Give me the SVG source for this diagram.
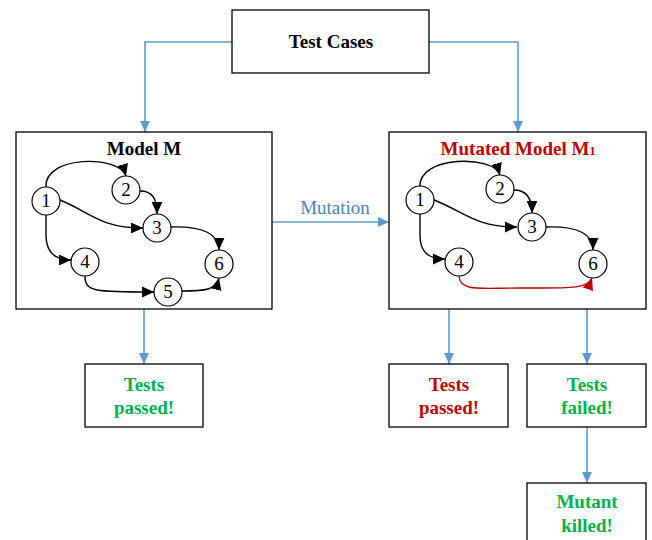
<svg xmlns="http://www.w3.org/2000/svg" width="652" height="540" viewBox="0 0 652 540">
<defs>
<marker id="ab" markerUnits="userSpaceOnUse" markerWidth="12" markerHeight="12" refX="10" refY="5" orient="auto" viewBox="0 0 10 10"><path d="M0,0.5 L10,5 L0,9.5 Z" fill="#000"/></marker>
<marker id="ar" markerUnits="userSpaceOnUse" markerWidth="12" markerHeight="12" refX="10" refY="5" orient="auto" viewBox="0 0 10 10"><path d="M0,0.5 L10,5 L0,9.5 Z" fill="#c00000"/></marker>
<marker id="bl" markerUnits="userSpaceOnUse" markerWidth="11" markerHeight="11" refX="10" refY="5" orient="auto" viewBox="0 0 10 10"><path d="M0,0.5 L10,5 L0,9.5 Z" fill="#5b9bd5"/></marker>
</defs>
<style>
.box{fill:#fff;stroke:#000;stroke-width:1.3}
.t{font-family:"Liberation Serif","Times New Roman",serif;font-weight:bold;font-size:19px;text-anchor:middle}
.n{font-family:"Liberation Serif","Times New Roman",serif;font-size:19px;text-anchor:middle}
.c{fill:#fff;stroke:#000;stroke-width:1.2}
.e{fill:none;stroke:#000;stroke-width:1.4;marker-end:url(#ab)}
.er{fill:none;stroke:#c00000;stroke-width:1.4;marker-end:url(#ar)}
.b{fill:none;stroke:#5b9bd5;stroke-width:1.6;marker-end:url(#bl)}
.g{fill:#00b050}
.r{fill:#c00000}
</style>
<g id="connectors">
<path class="b" d="M232,42 H145 V132"/>
<path class="b" d="M429,42 H518 V132"/>
<path class="b" d="M272,222 H389"/>
<path class="b" d="M144,309 V364"/>
<path class="b" d="M449,309 V364"/>
<path class="b" d="M587,309 V364"/>
<path class="b" d="M587,427 V483"/>
<text x="335" y="214" style="font-family:'Liberation Serif','Times New Roman',serif;font-size:19px;fill:#4f81bd;text-anchor:middle">Mutation</text>
</g>
<g id="test-cases">
<rect class="box" x="232" y="10" width="197" height="63"/>
<text class="t" x="331" y="48">Test Cases</text>
</g>
<g id="model-m">
<rect class="box" x="16" y="132" width="256" height="177"/>
<text class="t" x="144" y="155">Model M</text>
<path class="e" d="M46,187 C44,155 120,155 126,176"/>
<path class="e" d="M140,191 C152,191 157,198 157,214"/>
<path class="e" d="M60,200 C90,212 100,228 143,228"/>
<path class="e" d="M171,227 C205,226 219,235 219,250"/>
<path class="e" d="M46,215 L46,235 C46,252 55,260 71,260"/>
<path class="e" d="M85,276 C85,292 95,292 154,292"/>
<path class="e" d="M182,291 C205,291 216,290 219,278"/>
<g id="m-n1"><circle class="c" cx="46" cy="201" r="14"/><text class="n" x="46" y="207">1</text></g>
<g id="m-n2"><circle class="c" cx="126" cy="190" r="14"/><text class="n" x="126" y="196">2</text></g>
<g id="m-n3"><circle class="c" cx="157" cy="228" r="14"/><text class="n" x="157" y="234">3</text></g>
<g id="m-n4"><circle class="c" cx="85" cy="262" r="14"/><text class="n" x="85" y="268">4</text></g>
<g id="m-n5"><circle class="c" cx="168" cy="292" r="14"/><text class="n" x="168" y="298">5</text></g>
<g id="m-n6"><circle class="c" cx="219" cy="264" r="14"/><text class="n" x="219" y="270">6</text></g>
</g>
<g id="mutated-model">
<rect class="box" x="389" y="132" width="257" height="177"/>
<text class="t r" x="518" y="155">Mutated Model M<tspan style="font-size:12px">1</tspan></text>
<path class="e" d="M420,187 C418,155 494,155 500,175"/>
<path class="e" d="M514,190 C526,190 532,198 532,213"/>
<path class="e" d="M434,200 C465,212 475,227 517,227"/>
<path class="e" d="M546,227 C580,226 593,235 593,250"/>
<path class="e" d="M420,214 L420,235 C420,252 428,259 445,259"/>
<path class="er" d="M459,276 C460,292 480,288 520,288 C570,288 588,289 592,278"/>
<g id="mm-n1"><circle class="c" cx="420" cy="200" r="14"/><text class="n" x="420" y="206">1</text></g>
<g id="mm-n2"><circle class="c" cx="500" cy="189" r="14"/><text class="n" x="500" y="195">2</text></g>
<g id="mm-n3"><circle class="c" cx="532" cy="227" r="14"/><text class="n" x="532" y="233">3</text></g>
<g id="mm-n4"><circle class="c" cx="459" cy="262" r="14"/><text class="n" x="459" y="268">4</text></g>
<g id="mm-n6"><circle class="c" cx="593" cy="264" r="14"/><text class="n" x="593" y="270">6</text></g>
</g>
<g id="tests-passed-m">
<rect class="box" x="85" y="364" width="118" height="63"/>
<text class="t g" x="144" y="391">Tests</text>
<text class="t g" x="144" y="414">passed!</text>
</g>
<g id="tests-passed-m1">
<rect class="box" x="389" y="364" width="119" height="63"/>
<text class="t r" x="449" y="391">Tests</text>
<text class="t r" x="449" y="414">passed!</text>
</g>
<g id="tests-failed">
<rect class="box" x="527" y="364" width="119" height="63"/>
<text class="t g" x="587" y="391">Tests</text>
<text class="t g" x="587" y="414">failed!</text>
</g>
<g id="mutant-killed">
<rect class="box" x="527" y="483" width="119" height="70"/>
<text class="t g" x="587" y="508">Mutant</text>
<text class="t g" x="587" y="532">killed!</text>
</g>
</svg>
